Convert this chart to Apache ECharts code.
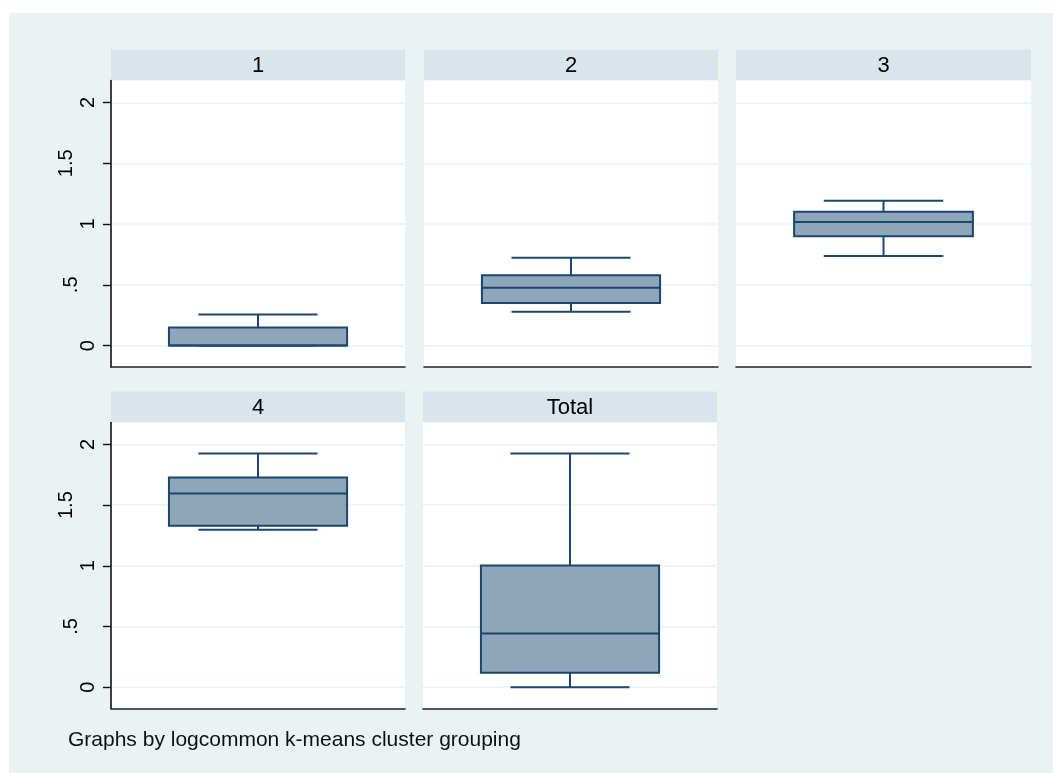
<!DOCTYPE html>
<html>
<head>
<meta charset="utf-8">
<script src="https://cdn.jsdelivr.net/npm/echarts@6/dist/echarts.min.js"></script>
<style>
html,body{margin:0;padding:0;background:#fff;}
#chart{width:1053px;height:773px;}
</style>
</head>
<body>
<div id="chart"></div>
<script>
// ---- data ----
const panelTitles = ['1', '2', '3', '4', 'Total'];
// [lower whisker, Q1, median, Q3, upper whisker]
const box1 = [0, 0, 0, 0.148, 0.255];
const box2 = [0.279, 0.351, 0.477, 0.578, 0.723];
const box3 = [0.737, 0.899, 1.016, 1.101, 1.191];
const box4 = [1.297, 1.330, 1.596, 1.728, 1.926];
const boxTotal = [0, 0.118, 0.442, 1.003, 1.926];
const yTickValues = [0, 0.5, 1, 1.5, 2];
const yTickLabels = ['0', '.5', '1', '1.5', '2'];
const footnote = 'Graphs by logcommon k-means cluster grouping';

const boxes = [box1, box2, box3, box4, boxTotal];

// ---- layout ----
const grids = [
  {left: 111, top: 80.5, width: 294, height: 286.5},
  {left: 424, top: 80.5, width: 294, height: 286.5},
  {left: 736, top: 80.5, width: 295, height: 286.5},
  {left: 111, top: 422.5, width: 294, height: 286},
  {left: 423, top: 422.5, width: 294, height: 286}
];
const stripH = 31;
const yMin = -0.176, yMax = 2.181;
const navy = '#1A476F';
const boxFill = '#8FA5B9';
const fontFam = '"Liberation Sans", Arial, sans-serif';

const labelMap = {};
yTickValues.forEach((v, i) => { labelMap[v] = yTickLabels[i]; });

function labelStyleName(txt) {
  if (txt.length >= 3) return 'c';
  if (txt.length === 2) return 'b';
  return 'a';
}
const richBase = {color: '#000', fontSize: 20, fontFamily: fontFam};

const option = {
  animation: false,
  backgroundColor: '#ffffff',
  grid: grids.map(g => ({
    left: g.left, top: g.top, width: g.width, height: g.height,
    show: true, backgroundColor: '#ffffff', borderWidth: 0, containLabel: false
  })),
  xAxis: grids.map((g, i) => ({
    type: 'category', gridIndex: i, data: [panelTitles[i]],
    axisLine: {show: true, onZero: false, lineStyle: {color: '#222', width: 1.6}},
    axisTick: {show: false}, axisLabel: {show: false}, splitLine: {show: false}
  })),
  yAxis: grids.map((g, i) => {
    const first = (i === 0 || i === 3);
    return {
      type: 'value', gridIndex: i, min: yMin, max: yMax,
      axisLine: {show: first, lineStyle: {color: '#111', width: 1.6}},
      axisTick: {show: first, inside: false, length: 8, customValues: yTickValues,
                 lineStyle: {color: '#111', width: 1.4}},
      axisLabel: {show: first, customValues: yTickValues, rotate: 90, margin: 13,
                  color: '#000', fontSize: 20, fontFamily: fontFam,
                  formatter: v => {
                    const t = labelMap[v];
                    if (t === undefined) return '';
                    return '{' + labelStyleName(t) + '|' + t + '}';
                  },
                  rich: {
                    a: Object.assign({padding: [0, 0, 0, 0]}, richBase),
                    b: Object.assign({padding: [0, 0, 17, 0]}, richBase),
                    c: Object.assign({padding: [0, 0, 22, 0]}, richBase)
                  }},
      splitLine: {show: true, lineStyle: {color: '#EAF1F3', width: 1.6}}
    };
  }),
  graphic: [
    {type: 'rect', z: -10, silent: true, shape: {x: 9, y: 13, width: 1044, height: 760},
     style: {fill: '#EAF2F3'}},
    ...grids.map((g, i) => ({
      type: 'rect', silent: true, z: -5,
      shape: {x: g.left, y: g.top - stripH, width: g.width, height: stripH},
      style: {fill: '#D9E5EB'}
    })),
    ...grids.map((g, i) => ({
      type: 'text', silent: true,
      x: g.left + g.width / 2, y: g.top - stripH / 2 + 1,
      style: {text: panelTitles[i], fill: '#000', font: '22px ' + fontFam,
              textAlign: 'center', textVerticalAlign: 'middle'}
    })),
    {type: 'text', silent: true, x: 68, y: 740,
     style: {text: footnote, fill: '#111', font: '21px ' + fontFam,
             textAlign: 'left', textVerticalAlign: 'middle'}}
  ],
  series: boxes.map((b, i) => ({
    type: 'custom', xAxisIndex: i, yAxisIndex: i,
    data: [[0].concat(b)],
    renderItem: function (params, api) {
      const x = api.value(0);
      const band = api.size([1, 0])[0];
      const c = api.coord([x, 0])[0];
      const yLo = api.coord([x, api.value(1)])[1];
      const yQ1 = api.coord([x, api.value(2)])[1];
      const yMed = api.coord([x, api.value(3)])[1];
      const yQ3 = api.coord([x, api.value(4)])[1];
      const yHi = api.coord([x, api.value(5)])[1];
      const hb = band * 0.303, hc = band * 0.2025;
      const ls = {stroke: navy, lineWidth: 2, fill: null};
      return {
        type: 'group',
        children: [
          {type: 'line', shape: {x1: c, y1: yQ3, x2: c, y2: yHi}, style: ls},
          {type: 'line', shape: {x1: c, y1: yQ1, x2: c, y2: yLo}, style: ls},
          {type: 'line', shape: {x1: c - hc, y1: yHi, x2: c + hc, y2: yHi}, style: ls},
          {type: 'line', shape: {x1: c - hc, y1: yLo, x2: c + hc, y2: yLo}, style: ls},
          {type: 'rect', shape: {x: c - hb, y: yQ3, width: 2 * hb, height: yQ1 - yQ3},
           style: {fill: boxFill, stroke: navy, lineWidth: 2}},
          {type: 'line', shape: {x1: c - hb, y1: yMed, x2: c + hb, y2: yMed}, style: ls}
        ]
      };
    }
  }))
};

const chart = echarts.init(document.getElementById('chart'), null, {renderer: 'canvas'});
chart.setOption(option);
</script>
</body>
</html>
